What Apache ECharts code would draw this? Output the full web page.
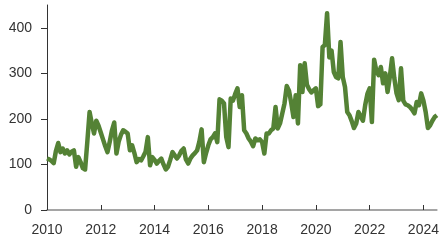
<!DOCTYPE html>
<html>
<head>
<meta charset="utf-8">
<script src="https://cdn.jsdelivr.net/npm/echarts@6/dist/echarts.min.js"></script>
<style>
  html, body { margin: 0; padding: 0; background: #fff; }
  #chart { width: 442px; height: 244px; }
</style>
</head>
<body>
<div id="chart"></div>
<script>
// monthly values, Jan 2010 .. Jul 2024
var startYear = 2010;
var values = [
  113, 111, 108, 103, 130, 147, 127, 135, 124, 131, 122, 128,   // 2010
  131, 95, 116, 105, 92, 89, 150, 215, 190, 168, 196, 185,      // 2011
  170, 155, 140, 127, 150, 175, 192, 124, 150, 165, 175, 172,   // 2012
  168, 131, 142, 125, 105, 112, 109, 118, 128, 160, 98, 116,    // 2013
  110, 102, 108, 113, 100, 89, 95, 110, 127, 120, 113, 120,     // 2014
  130, 135, 111, 102, 113, 120, 125, 131, 150, 177, 105, 125,   // 2015
  142, 155, 160, 168, 149, 243, 240, 234, 160, 138, 245, 240,   // 2016
  255, 267, 226, 252, 175, 168, 157, 150, 140, 157, 153, 155,   // 2017
  149, 124, 168, 168, 175, 179, 226, 179, 190, 212, 234, 272,   // 2018
  262, 235, 204, 252, 190, 318, 259, 322, 275, 265, 258, 263,   // 2019
  267, 228, 232, 358, 362, 432, 335, 350, 303, 292, 289, 369,   // 2020
  292, 270, 215, 208, 195, 180, 190, 215, 205, 196, 230, 255,   // 2021
  267, 193, 330, 305, 296, 314, 278, 300, 259, 292, 333, 290,   // 2022
  256, 241, 311, 240, 232, 230, 226, 220, 212, 237, 230, 256,   // 2023
  240, 215, 180, 186, 196, 204, 208                             // 2024
];
var yearTicks = [2010, 2012, 2014, 2016, 2018, 2020, 2022, 2024];
var valueTicks = [0, 100, 200, 300, 400];

var points = values.map(function (v, i) { return [startYear + i / 12, v]; });

var myChart = echarts.init(document.getElementById('chart'));
var option = {
  animation: false,
  grid: { left: 47, right: 4, top: 5, bottom: 34 },
  xAxis: {
    type: 'value',
    min: 2010,
    max: 2024.5,
    interval: 2,
    axisLine: { lineStyle: { color: '#888', width: 1.5 } },
    axisTick: { inside: true, length: 5, customValues: yearTicks, lineStyle: { color: '#333' } },
    axisLabel: {
      customValues: yearTicks,
      formatter: function (v) { return String(v); },
      margin: 13,
      color: '#333',
      fontFamily: 'Liberation Sans, Arial',
      fontSize: 14
    },
    splitLine: { show: false }
  },
  yAxis: {
    type: 'value',
    min: 0,
    max: 450,
    interval: 100,
    axisLine: { show: true, lineStyle: { color: '#333', width: 1 } },
    axisTick: { show: true, length: 6, customValues: valueTicks, lineStyle: { color: '#333' } },
    axisLabel: {
      customValues: valueTicks,
      margin: 15,
      color: '#333',
      fontFamily: 'Liberation Sans, Arial',
      fontSize: 14
    },
    splitLine: { show: false }
  },
  series: [{
    type: 'line',
    data: points,
    showSymbol: false,
    lineStyle: { color: '#548235', width: 4.5, join: 'round' }
  }]
};
myChart.setOption(option);
</script>
</body>
</html>
